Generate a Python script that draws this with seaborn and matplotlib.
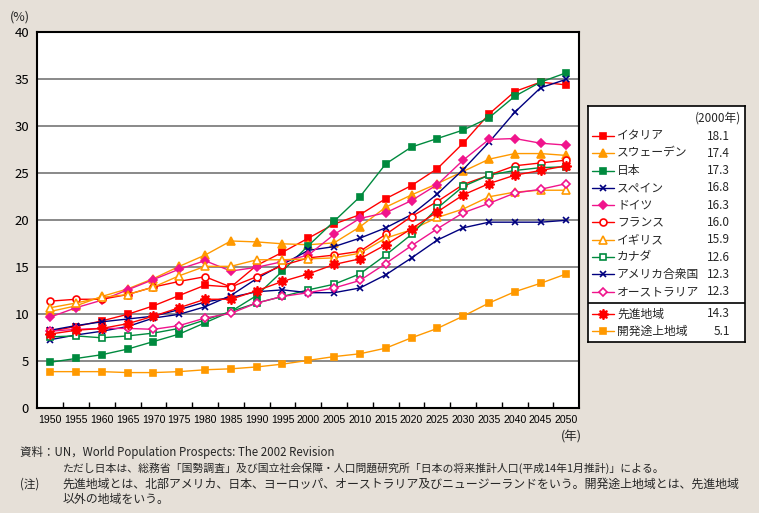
import numpy as np
import pandas as pd
import matplotlib
matplotlib.use("Agg")
import matplotlib.pyplot as plt
import seaborn as sns

# ---- data (% of population aged 65+) ----
years = [1950, 1955, 1960, 1965, 1970, 1975, 1980, 1985, 1990, 1995, 2000,
         2005, 2010, 2015, 2020, 2025, 2030, 2035, 2040, 2045, 2050]

italy = [8.2, 8.7, 9.3, 10.0, 10.9, 12.0, 13.1, 12.9, 15.2, 16.6, 18.1,
         19.6, 20.6, 22.3, 23.7, 25.5, 28.2, 31.3, 33.7, 34.7, 34.4]
sweden = [10.3, 10.9, 11.9, 12.7, 13.8, 15.1, 16.3, 17.8, 17.7, 17.5, 17.4,
          17.6, 19.3, 21.4, 22.7, 23.9, 25.2, 26.5, 27.1, 27.1, 26.9]
japan = [4.9, 5.3, 5.7, 6.3, 7.1, 7.9, 9.1, 10.3, 12.0, 14.6, 17.3,
         19.9, 22.5, 26.0, 27.8, 28.7, 29.6, 30.9, 33.2, 34.7, 35.7]
spain = [7.3, 7.8, 8.2, 8.7, 9.6, 10.0, 10.8, 12.0, 13.8, 15.3, 16.8,
         17.2, 18.1, 19.2, 20.6, 22.8, 25.4, 28.3, 31.5, 34.1, 35.0]
germany = [9.7, 10.7, 11.5, 12.6, 13.7, 14.8, 15.7, 14.6, 15.0, 15.6, 16.3,
           18.5, 20.2, 20.8, 22.1, 23.8, 26.4, 28.6, 28.7, 28.2, 28.0]
france = [11.4, 11.6, 11.6, 12.1, 12.9, 13.5, 14.0, 12.9, 14.0, 15.2, 16.0,
          16.3, 16.7, 18.5, 20.4, 22.0, 23.8, 24.8, 25.8, 26.1, 26.4]
uk = [10.7, 11.2, 11.8, 12.1, 12.9, 14.1, 15.1, 15.1, 15.8, 15.8, 15.9,
      16.0, 16.5, 18.1, 19.0, 20.3, 21.2, 22.5, 23.0, 23.2, 23.2]
canada = [7.6, 7.7, 7.5, 7.7, 8.0, 8.5, 9.4, 10.3, 11.2, 11.9, 12.6,
          13.2, 14.3, 16.3, 18.5, 21.3, 23.6, 24.8, 25.3, 25.6, 25.7]
usa = [8.3, 8.8, 9.2, 9.5, 9.8, 10.5, 11.3, 11.8, 12.4, 12.6, 12.3,
       12.3, 12.8, 14.2, 16.0, 17.9, 19.2, 19.8, 19.8, 19.8, 20.0]
australia = [8.2, 8.4, 8.5, 8.5, 8.4, 8.8, 9.6, 10.1, 11.2, 11.9, 12.3,
             12.8, 13.6, 15.4, 17.3, 19.1, 20.8, 21.8, 22.9, 23.3, 23.9]
developed = [7.9, 8.3, 8.5, 9.0, 9.8, 10.7, 11.6, 11.6, 12.5, 13.5, 14.3,
             15.3, 15.9, 17.4, 19.1, 20.9, 22.7, 23.9, 24.8, 25.3, 25.8]
developing = [3.9, 3.9, 3.9, 3.8, 3.8, 3.9, 4.1, 4.2, 4.4, 4.7, 5.1,
              5.5, 5.8, 6.4, 7.5, 8.5, 9.8, 11.2, 12.4, 13.3, 14.3]

names = ["イタリア", "スウェーデン", "日本", "スペイン", "ドイツ", "フランス",
         "イギリス", "カナダ", "アメリカ合衆国", "オーストラリア", "先進地域", "開発途上地域"]
values_2000 = ["18.1", "17.4", "17.3", "16.8", "16.3", "16.0", "15.9", "12.6",
               "12.3", "12.3", "14.3", "5.1"]
series = [italy, sweden, japan, spain, germany, france, uk, canada, usa,
          australia, developed, developing]

RED, ORANGE, GREEN = "#FF0000", "#FF9900", "#008A3E"
NAVY, PINK = "#00007F", "#F0148C"
STAR = (8, 1, 0)
# (color, marker, filled, markersize)
styles = [
    (RED, "s", True, 4.8),
    (ORANGE, "^", True, 5.5),
    (GREEN, "s", True, 4.8),
    (NAVY, "x", True, 4.5),
    (PINK, "D", True, 4.5),
    (RED, "o", False, 5),
    (ORANGE, "^", False, 5.5),
    (GREEN, "s", False, 4.8),
    (NAVY, "x", True, 4.5),
    (PINK, "D", False, 4.5),
    (RED, STAR, True, 7.5),
    (ORANGE, "s", True, 4.8),
]

BG = "#E6E0D8"
sns.set_theme(style="white")
plt.rcParams["font.family"] = ["Noto Sans CJK JP", "DejaVu Sans"]

df = pd.DataFrame({"year": years * len(series),
                   "value": np.concatenate(series),
                   "name": np.repeat(names, len(years))})

fig = plt.figure(figsize=(7.59, 5.13), dpi=100, facecolor=BG)
W, H = 759, 513
ax = fig.add_axes([37.3 / W, 1 - 408.3 / H, (579.3 - 37.3) / W, (408.3 - 32.3) / H])
ax.set_facecolor("white")

for k, name in enumerate(names):
    color, marker, filled, ms = styles[k]
    sub = df[df["name"] == name]
    sns.lineplot(data=sub, x="year", y="value", ax=ax, color=color, lw=1.0,
                 marker=marker, markersize=ms, markeredgecolor=color,
                 markerfacecolor=color if filled else "white",
                 markeredgewidth=1.2, zorder=3 + k, legend=False)

ax.set_xlim(1947.5, 2052.5)
ax.set_ylim(0, 40)
ax.set_xticks(years)
ax.set_xticklabels([str(y) for y in years], fontsize=7.6,
                   family=["Liberation Sans", "DejaVu Sans"])
ax.set_xticks([y + 2.5 for y in years[:-1]], minor=True)
ax.set_yticks(range(0, 41, 5))
ax.set_yticklabels([str(v) for v in range(0, 41, 5)], fontsize=9.5)
ax.tick_params(axis="x", which="major", length=0, pad=5, colors="black")
ax.tick_params(axis="x", which="minor", direction="in", length=4, width=1,
               color="black", bottom=True)
ax.tick_params(axis="y", length=0, pad=6, colors="black")
ax.yaxis.grid(True, color="#808080", lw=1.3)
ax.set_axisbelow(True)
ax.set_xlabel("")
ax.set_ylabel("")
for sp in ax.spines.values():
    sp.set_color("black")
    sp.set_linewidth(1.5)

fig.text(10 / W, 1 - 17 / H, "(%)", fontsize=9, va="center", ha="left")
fig.text(571 / W, 1 - 437 / H, "(年)", fontsize=9, va="center", ha="center")

# ---- legend box ----
lx0, lx1, ly0, ly1 = 588, 745, 106, 342
lg = fig.add_axes([lx0 / W, 1 - ly1 / H, (lx1 - lx0) / W, (ly1 - ly0) / H])
lg.set_xlim(lx0, lx1)
lg.set_ylim(ly1, ly0)
lg.set_xticks([])
lg.set_yticks([])
lg.set_facecolor("white")
for sp in lg.spines.values():
    sp.set_color("black")
    sp.set_linewidth(1.2)
lg.text(741, 118, "(2000年)", fontsize=8.5, ha="right", va="center")
row_y = [136 + 17.3 * k for k in range(10)] + [314, 331.5]
for k, name in enumerate(names):
    color, marker, filled, ms = styles[k]
    y = row_y[k]
    lg.plot([592, 614], [y, y], color=color, lw=1.0)
    lg.plot([603], [y], marker=marker, markersize=ms, color=color,
            markeredgecolor=color, markeredgewidth=1.2,
            markerfacecolor=color if filled else "white")
    lg.text(617, y, name, fontsize=8.5, ha="left", va="center")
    lg.text(730, y, values_2000[k], fontsize=8.5, ha="right", va="center")
lg.plot([lx0, lx1], [303, 303], color="black", lw=1.2)

# ---- notes ----
fig.text(20 / W, 1 - 452 / H, "資料：UN，World Population Prospects: The 2002 Revision",
         fontsize=8.3, va="center")
fig.text(63 / W, 1 - 468 / H,
         "ただし日本は、総務省「国勢調査」及び国立社会保障・人口問題研究所「日本の将来推計人口(平成14年1月推計)」による。",
         fontsize=7.8, va="center")
fig.text(20 / W, 1 - 484 / H, "(注)", fontsize=8.3, va="center")
fig.text(62 / W, 1 - 484 / H,
         "先進地域とは、北部アメリカ、日本、ヨーロッパ、オーストラリア及びニュージーランドをいう。開発途上地域とは、先進地域",
         fontsize=8.6, va="center")
fig.text(63 / W, 1 - 500 / H, "以外の地域をいう。", fontsize=8.6, va="center")

fig.savefig("out.png", dpi=100, facecolor=BG)
